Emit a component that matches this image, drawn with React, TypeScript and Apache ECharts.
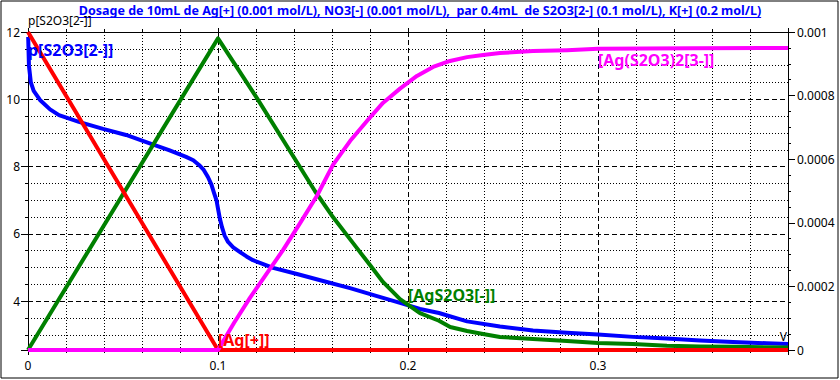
import React, { useEffect, useRef } from 'react';
import * as echarts from 'echarts';

const TITLE = 'Dosage de 10mL de Ag[+] (0.001 mol/L), NO3[-] (0.001 mol/L),  par 0.4mL  de S2O3[2-] (0.1 mol/L), K[+] (0.2 mol/L)';
const LEFT_AXIS_NAME = 'p[S2O3[2-]]';
const X_AXIS_NAME = 'V';

// p[S2O3[2-]] (left axis)
const volBlue = [0.0001, 0.0005, 0.0015, 0.003, 0.0063, 0.0116, 0.0163, 0.0268, 0.0395, 0.0516, 0.0637, 0.0742, 0.0832, 0.087, 0.09, 0.0925, 0.0947, 0.0965, 0.0979, 0.0992, 0.1, 0.101, 0.1021, 0.1035, 0.1053, 0.108, 0.1116, 0.115, 0.1184, 0.129, 0.1416, 0.1553, 0.1695, 0.1837, 0.1958, 0.2063, 0.2163, 0.2311, 0.2484, 0.2658, 0.2837, 0.3, 0.3184, 0.3363, 0.3537, 0.3711, 0.3889, 0.4];
const pS2O3 = [11.85, 11.0, 10.5, 10.25, 9.98, 9.7, 9.53, 9.33, 9.12, 8.94, 8.7, 8.49, 8.29, 8.19, 8.05, 7.9, 7.69, 7.47, 7.22, 7.0, 6.75, 6.45, 6.2, 5.95, 5.76, 5.6, 5.46, 5.33, 5.22, 4.99, 4.81, 4.6, 4.39, 4.15, 3.95, 3.77, 3.65, 3.4, 3.25, 3.13, 3.06, 3.01, 2.94, 2.89, 2.83, 2.79, 2.75, 2.73];

// [Ag+] (right axis)
const volAg = [0, 0.1, 0.4];
const agPlus = [0.001, 0, 0];

// [AgS2O3-] (right axis)
const volAgS2O3 = [0, 0.1, 0.1205, 0.151, 0.1605, 0.1711, 0.18, 0.1868, 0.1958, 0.2063, 0.2163, 0.2222, 0.2311, 0.2395, 0.2484, 0.2658, 0.2837, 0.3, 0.3184, 0.3363, 0.3537, 0.3711, 0.4];
const agS2O3 = [0, 0.00098, 0.000792, 0.0005, 0.000418, 0.000336, 0.000267, 0.000214, 0.00016, 0.000116, 0.000092, 0.0000723, 0.0000597, 0.0000503, 0.0000409, 0.0000346, 0.0000283, 0.000022, 0.000019, 0.0000135, 0.000011, 0.00001, 0.0000075];

// [Ag(S2O3)2 3-] (right axis)
const volAgS2O32 = [0, 0.1, 0.1084, 0.1168, 0.1258, 0.1342, 0.1432, 0.1521, 0.1605, 0.1695, 0.1784, 0.1868, 0.1958, 0.2047, 0.2132, 0.2221, 0.2311, 0.2395, 0.2484, 0.2658, 0.2837, 0.3, 0.35, 0.4];
const agS2O32 = [0, 0, 0.000085, 0.000164, 0.000242, 0.000314, 0.000399, 0.000485, 0.000582, 0.000657, 0.00072, 0.000777, 0.000822, 0.000862, 0.00089, 0.000909, 0.000921, 0.000928, 0.000934, 0.00094, 0.000943, 0.000947, 0.000949, 0.00095];

const seriesLabels = ['p[S2O3[2-]]', '[Ag[+]]', '[AgS2O3[-]]', '[Ag(S2O3)2[3-]]'];

const FONT = '"Noto Sans", "DejaVu Sans", sans-serif';

const pairs = (xs: number[], ys: number[]) => xs.map((x, i) => [x, ys[i]]);

export default function App() {
  const ref = useRef<HTMLDivElement>(null);
  useEffect(() => {
    if (!ref.current) return;
    const chart = echarts.init(ref.current, null, { renderer: 'svg' });

    const titleFont = `bold 12.5px ${FONT}`;
    let titleW = 686;
    try {
      const c = document.createElement('canvas').getContext('2d');
      if (c) { c.font = titleFont; titleW = c.measureText(TITLE).width; }
    } catch (e) { /* ignore */ }

    const black = '#000';
    const labelFont = `bold 16px ${FONT}`;
    const option: any = {
      animation: false,
      backgroundColor: '#fff',
      grid: { left: 28, right: 52, top: 32, bottom: 30, containLabel: false },
      xAxis: [
        {
          type: 'value', min: 0, max: 0.4, interval: 0.1, position: 'bottom',
          axisLine: { show: true, onZero: false, lineStyle: { color: black, width: 1 } },
          axisTick: { show: true, length: 5, lineStyle: { color: black } },
          minorTick: { show: true, splitNumber: 5, length: 3, lineStyle: { color: black } },
          axisLabel: { color: black, fontSize: 12, fontFamily: FONT, margin: 9, showMaxLabel: false,
            formatter: (v: number) => String(+v.toFixed(2)) },
          splitLine: { show: true, lineStyle: { color: black, width: 1, type: [5, 3] } },
          minorSplitLine: { show: true, lineStyle: { color: black, width: 1, type: [1, 2] } },
        },
        {
          type: 'value', min: 0, max: 0.4, interval: 0.1, position: 'top',
          axisLine: { show: true, onZero: false, lineStyle: { color: black, width: 1 } },
          axisTick: { show: true, length: 4, lineStyle: { color: black } },
          minorTick: { show: true, splitNumber: 5, length: 3, lineStyle: { color: black } },
          axisLabel: { show: false },
          splitLine: { show: false },
        },
      ],
      yAxis: [
        {
          type: 'value', min: 2.55, max: 12, position: 'left',
          axisLine: { show: true, onZero: false, lineStyle: { color: black, width: 1 } },
          axisTick: { show: true, length: 7, lineStyle: { color: black } },
          minorTick: { show: true, splitNumber: 4, length: 3, lineStyle: { color: black } },
          axisLabel: { color: black, fontSize: 12, fontFamily: FONT, margin: 8, showMinLabel: false },
          splitLine: { show: true, lineStyle: { color: black, width: 1, type: [5, 3] } },
          minorSplitLine: { show: true, lineStyle: { color: black, width: 1, type: [1, 2] } },
        },
        {
          type: 'value', min: 0, max: 0.001, interval: 0.0002, position: 'right',
          axisLine: { show: true, onZero: false, lineStyle: { color: black, width: 1 } },
          axisTick: { show: true, length: 7, lineStyle: { color: black } },
          minorTick: { show: true, splitNumber: 4, length: 3, lineStyle: { color: black } },
          axisLabel: { color: black, fontSize: 12, fontFamily: FONT, margin: 9,
            formatter: (v: number) => (v === 0 ? '0' : String(+v.toFixed(4))) },
          splitLine: { show: false },
        },
      ],
      series: [
        { name: seriesLabels[0], type: 'line', xAxisIndex: 0, yAxisIndex: 0, data: pairs(volBlue, pS2O3),
          showSymbol: false, symbol: 'none', clip: false,
          lineStyle: { color: '#0000ff', width: 4, join: 'round' } },
        { name: seriesLabels[2], type: 'line', xAxisIndex: 0, yAxisIndex: 1, data: pairs(volAgS2O3, agS2O3),
          showSymbol: false, symbol: 'none', clip: false, lineStyle: { color: '#008000', width: 4, join: 'round' } },
        { name: seriesLabels[1], type: 'line', xAxisIndex: 0, yAxisIndex: 1, data: pairs(volAg, agPlus),
          showSymbol: false, symbol: 'none', clip: false, lineStyle: { color: '#ff0000', width: 4 } },
        { name: seriesLabels[3], type: 'line', xAxisIndex: 0, yAxisIndex: 1, data: pairs(volAgS2O32, agS2O32),
          showSymbol: false, symbol: 'none', clip: false, lineStyle: { color: '#ff00ff', width: 4, join: 'round' } },
      ],
      graphic: [
        { type: 'rect', shape: { x: 1, y: 1, width: 837, height: 377 }, style: { fill: 'none', stroke: black, lineWidth: 1 }, z: 100 },
        { type: 'text', x: 420, y: 10, style: { text: TITLE, font: titleFont, fill: '#0000ff', align: 'center', verticalAlign: 'middle' }, z: 100 },
        { type: 'line', shape: { x1: 420 - titleW / 2, y1: 17.5, x2: 420 + titleW / 2, y2: 17.5 }, style: { stroke: '#0000ff', lineWidth: 1 }, z: 100 },
        { type: 'text', x: 28, y: 20, style: { text: LEFT_AXIS_NAME, font: `12px ${FONT}`, fill: black, align: 'left', verticalAlign: 'middle' }, z: 100 },
        { type: 'text', x: 787, y: 336, style: { text: X_AXIS_NAME, font: `12px ${FONT}`, fill: black, align: 'right', verticalAlign: 'middle' }, z: 100 },
        { type: 'text', x: 28, y: 50, style: { text: seriesLabels[0], font: labelFont, fill: '#0000ff', align: 'left', verticalAlign: 'middle' }, z: 100 },
        { type: 'text', x: 218, y: 340, style: { text: seriesLabels[1], font: labelFont, fill: '#ff0000', align: 'left', verticalAlign: 'middle' }, z: 100 },
        { type: 'text', x: 408, y: 295, style: { text: seriesLabels[2], font: labelFont, fill: '#008000', align: 'left', verticalAlign: 'middle' }, z: 100 },
        { type: 'text', x: 598, y: 60, style: { text: seriesLabels[3], font: labelFont, fill: '#ff00ff', align: 'left', verticalAlign: 'middle' }, z: 100 },
      ],
    };
    chart.setOption(option);
    return () => chart.dispose();
  }, []);
  return <div ref={ref} style={{ position: 'fixed', left: 0, top: 0, width: 840, height: 380, background: '#fff' }} />;
}
